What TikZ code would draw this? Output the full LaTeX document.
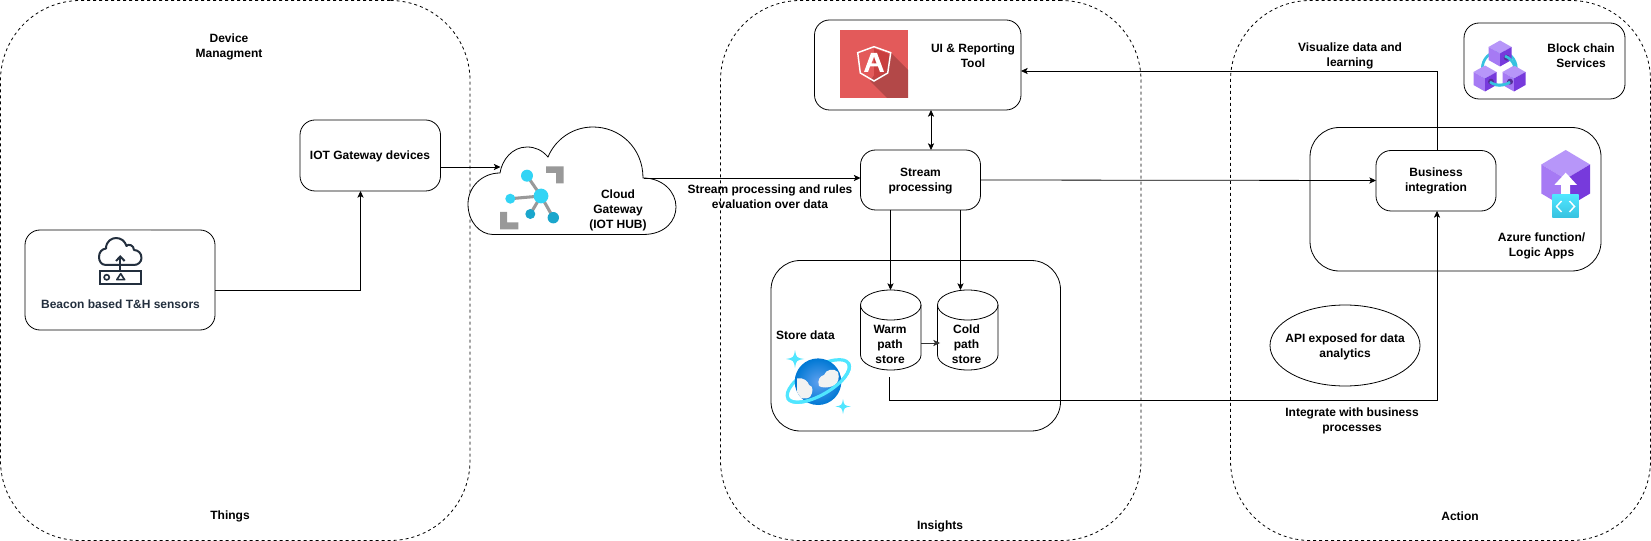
\documentclass[tikz,border=0pt]{standalone}
\usepackage{fontspec}
\setmainfont{Liberation Sans}
\usetikzlibrary{arrows.meta,fit,shapes.geometric}
\definecolor{slateink}{HTML}{232F3E}
\definecolor{cyanA}{HTML}{32D4F5}
\definecolor{cyanB}{HTML}{1AA6CC}
\definecolor{linkgrey}{HTML}{999999}
\definecolor{angred}{HTML}{E35A5A}
\definecolor{angdark}{HTML}{B34848}
\definecolor{angmid}{HTML}{C94040}
\definecolor{purpT}{HTML}{B796F9}
\definecolor{purpL}{HTML}{A67AF4}
\definecolor{purpR}{HTML}{773ADC}
\definecolor{purpD}{HTML}{552F99}
\definecolor{ringc}{HTML}{50E6FF}
\definecolor{ringd}{HTML}{37C2E0}
\definecolor{cloudw}{HTML}{F2F2F2}
\definecolor{cosmosin}{HTML}{5EA0EF}
\definecolor{cosmosout}{HTML}{0078D4}
\tikzset{
  x=0.75pt,y=-0.75pt,
  lbl/.style={font=\bfseries\fontsize{9}{11.25}\selectfont,align=center,text=black,inner sep=0pt,yshift=-0.75pt},
  panel/.style={draw=black,line width=0.6pt,rounded corners=11.25pt,inner sep=0pt,outer sep=0pt},
  bigpanel/.style={draw=black,line width=0.6pt,dash pattern=on 2.25pt off 2.25pt,rounded corners=60pt,inner sep=0pt,outer sep=0pt},
  wire/.style={draw=black,line width=0.6pt},
  arr/.style={wire,-{Stealth[length=5pt,width=4.6pt,inset=1.2pt]}},
  arrboth/.style={wire,{Stealth[length=5pt,width=4.6pt,inset=1.2pt]}-{Stealth[length=5pt,width=4.6pt,inset=1.2pt]}},
  iconline/.style={draw=slateink,line width=1.5pt},
}
% \bx[style]{name}{x1}{y1}{x2}{y2}
\newcommand{\bx}[6][panel]{%
  \coordinate (#2-a) at (#3,#4);\coordinate (#2-b) at (#5,#6);
  \node[#1,fit=(#2-a)(#2-b)] (#2) {};}
\newcommand{\cubeicon}[4]{% cx cy halfwidth halfheight-unit
  \fill[purpT] (#1,#2-#4) -- (#1+#3,#2-#4*0.5) -- (#1,#2) -- (#1-#3,#2-#4*0.5) -- cycle;
  \fill[purpL] (#1-#3,#2-#4*0.5) -- (#1,#2) -- (#1,#2+#4) -- (#1-#3,#2+#4*0.5) -- cycle;
  \fill[purpR] (#1+#3,#2-#4*0.5) -- (#1,#2) -- (#1,#2+#4) -- (#1+#3,#2+#4*0.5) -- cycle;}
\newcommand{\sparkle}[3]{%
  \fill[ringc] (#1,#2-#3) .. controls (#1+#3*0.15,#2-#3*0.15) .. (#1+#3,#2)
   .. controls (#1+#3*0.15,#2+#3*0.15) .. (#1,#2+#3)
   .. controls (#1-#3*0.15,#2+#3*0.15) .. (#1-#3,#2)
   .. controls (#1-#3*0.15,#2-#3*0.15) .. cycle;}
\newcommand{\cyl}[3]{% name x1 x2
  \filldraw[wire,fill=white] (#2,305)
    .. controls (#2,297) and (#2+13,290) .. ({(#2+#3)/2},290)
    .. controls (#3-13,290) and (#3,297) .. (#3,305)
    -- (#3,355)
    .. controls (#3,363) and (#3-13,370) .. ({(#2+#3)/2},370)
    .. controls (#2+13,370) and (#2,363) .. (#2,355) -- cycle;
  \draw[wire] (#2,305)
    .. controls (#2,313) and (#2+13,320) .. ({(#2+#3)/2},320)
    .. controls (#3-13,320) and (#3,313) .. (#3,305);
  \coordinate (#1-a) at (#2,290);\coordinate (#1-b) at (#3,370);
  \node[fit=(#1-a)(#1-b),inner sep=0pt,outer sep=0pt] (#1) {};}
\begin{document}
\begin{tikzpicture}
\useasboundingbox[fill=white] (0,0) rectangle (1651,541);
% ---- zones
\bx[bigpanel]{things}{0.5}{0.5}{470}{540.5}
\bx[bigpanel]{insights}{720.5}{0.5}{1141}{540.5}
\bx[bigpanel]{action}{1230.5}{0.5}{1650.5}{540.5}
% ---- panels
\bx{beacon}{25}{230}{215}{330}
\draw[line width=0.6pt,draw=linkgrey!70] (90,230) -- (150.5,230);
\bx{iot}{300}{120}{440.5}{191}
\bx{ui}{814.5}{20}{1021}{110}
\bx[panel,rounded corners=22pt]{store}{771}{260.5}{1060.5}{431}
\bx{stream}{860.5}{150}{980.5}{210}
\bx[panel,rounded corners=22pt]{azure}{1310}{127.5}{1601}{271}
\bx{business}{1376}{150.5}{1496}{211}
\bx{chain}{1464}{23}{1625}{99}
\node[draw=black,line width=0.6pt,ellipse,inner sep=0pt,outer sep=0pt,minimum width=112.5pt,minimum height=60.75pt] (api) at (1345,345.5) {};
% ---- cloud
\filldraw[wire,fill=white] (493,234.5) -- (643,234.5) .. controls (666,234.5) and (676,220) .. (676,207)
  .. controls (676,192) and (663,178) .. (643,178) .. controls (643,148) and (620,127) .. (593,127)
  .. controls (572,127) and (555,140) .. (548,157) .. controls (542,150) and (535,147) .. (527,147)
  .. controls (512,147) and (502,160) .. (500,173) .. controls (482,173) and (468,187) .. (468,204)
  .. controls (468,222) and (480,234.5) .. (493,234.5) -- cycle;
\coordinate (cloud-a) at (468,127);\coordinate (cloud-b) at (676,234.5);
\node[fit=(cloud-a)(cloud-b),inner sep=0pt,outer sep=0pt] (cloud) {};
\coordinate (cloudin) at (500.5,167);
\coordinate (cloudout) at (644,178);
% ---- cylinders
\cyl{warm}{860.5}{921}
\cyl{cold}{937.5}{998}
% ---- connectors
\coordinate (beaconout) at (215,290.5);
\coordinate (iotin) at (360.5,191);
\draw[arr] (beaconout) -| (iotin);
\coordinate (iotout) at (440.5,167);
\draw[arr] (iotout) -- (cloudin);
\draw[arr] (cloudout) -- (stream.west |- cloudout);
\coordinate (uibot) at (931,110);
\draw[arrboth] (uibot) -- (uibot |- stream.north);
\coordinate (streamE) at (980.5,180);
\coordinate (businessW) at (1376,180.5);
\draw[arr] (streamE) -- (businessW);
\coordinate (warmdrop) at (890.5,210);
\coordinate (colddrop) at (960.5,210);
\draw[arr] (warmdrop) -- (warmdrop |- warm.north);
\draw[arr] (colddrop) -- (colddrop |- cold.north);
\coordinate (warmE) at (921,343);
\coordinate (coldW) at (940,343);
\draw[arr,draw=black!80] (warmE) -- (coldW);
\coordinate (warmout) at (889.5,377);
\coordinate (businessS) at (1437,211);
\coordinate (bend) at (889.5,400.5);
\draw[arr] (warmout) -- (bend) -| (businessS);
\coordinate (businessN) at (1437,150.5);
\coordinate (uiE) at (1021,71);
\draw[arr] (businessN) |- (uiE);
% ---- labels
\node[lbl] (tdev) at (229,45.5) {Device\\Managment};
\node[lbl] (tthings) at (230,515) {Things};
\node[lbl] (tinsights) at (940,525.5) {Insights};
\node[lbl] (taction) at (1460,515) {Action};
\node[lbl,text=slateink] (tbeacon) at (120.5,303.5) {Beacon based T\&H sensors};
\node[lbl] (tiot) at (370,155) {IOT Gateway devices};
\node[lbl] (tcloud) at (618,209) {Cloud\\Gateway\\(IOT HUB)};
\node[lbl] (trules) at (770,195.5) {Stream processing and rules\\evaluation over data};
\node[lbl] (tui) at (973,55) {UI \& Reporting\\Tool};
\node[lbl] (tstream) at (920.5,180) {Stream\\processing};
\node[lbl] (tstore) at (805.5,334) {Store data};
\node[lbl] (twarm) at (890,343) {Warm\\path\\store};
\node[lbl] (tcold) at (966.5,343) {Cold\\path\\store};
\node[lbl] (tbus) at (1436,180) {Business\\integration};
\node[lbl] (tazure) at (1541.5,245) {Azure function/\\Logic Apps};
\node[lbl] (tvis) at (1350,55) {Visualize data and\\learning};
\node[lbl] (tchain) at (1581,55) {Block chain\\Services};
\node[lbl] (tapi) at (1345,345.5) {API exposed for data\\analytics};
\node[lbl] (tint) at (1352,419.5) {Integrate with business\\processes};
% ---- beacon icon
\draw[iconline,line join=round] (106,265) .. controls (101,265) and (99,261) .. (99,257) .. controls (99,252) and (102,249) .. (106,248.5)
  .. controls (106,241) and (112,238) .. (116,238) .. controls (121,238) and (125,241) .. (126.5,246)
  .. controls (128,243.5) and (134,245) .. (134,250) .. controls (138,250) and (141.5,253) .. (141.5,258)
  .. controls (141.5,262) and (138,265) .. (134,265) -- (106,265);
\draw[iconline] (99.7,271) rectangle (141,284);
\draw[draw=slateink,line width=1.5pt] (120.3,271) -- (120.3,257);
\draw[draw=slateink,line width=1.5pt,line join=miter] (116,261) -- (120.3,256.5) -- (124.6,261);
\draw[draw=slateink,line width=1.2pt] (106.7,277.3) circle[radius=2.6];
\draw[draw=slateink,line width=1.2pt,line join=round] (120.7,273.7) -- (124.6,279.7) -- (116.8,279.7) -- cycle;
% ---- iot hub icon
\draw[linkgrey,line width=2.3pt] (541,196) -- (527,175.7) (541,196) -- (510.3,198.7) (541,196) -- (530.3,214) (541,196) -- (553.3,217.7);
\fill[cyanA] (541,196) circle[radius=7.4];
\fill[cyanA] (527,175.7) circle[radius=6];
\fill[cyanA] (510.3,198.7) circle[radius=5];
\fill[cyanB] (530.3,214) circle[radius=5];
\fill[cyanB] (553.3,217.7) circle[radius=5.7];
\fill[linkgrey] (546,166.5) -- (563.7,166.5) -- (563.7,183.5) -- (556,183.5) -- (556,173) -- (546,173) -- cycle;
\fill[linkgrey] (500,212) -- (507,212) -- (507,222.5) -- (518.3,222.5) -- (518.3,229.5) -- (500,229.5) -- cycle;
% ---- angular icon
\fill[angred] (840,30) rectangle (908,98);
\fill[angdark] (890.7,52.7) -- (908,70) -- (908,98) -- (887,98) -- (870,81) -- cycle;
\fill[angmid] (874,48.5) -- (874,79) -- (886,72) -- (889,54) -- cycle;
\draw[white,line width=1.1pt,line join=miter] (874,46.7) -- (890.7,52.7) -- (887.7,73) -- (874,81) -- (860.3,73) -- (857.7,52.7) -- cycle;
\fill[white] (871,53) -- (877,53) -- (884,72) -- (880,72) -- (878,66.5) -- (870,66.5) -- (868,72) -- (864,72) -- cycle;
\fill[angred] (874,57) -- (871.5,63.5) -- (874,63.5) -- cycle;
\fill[angmid] (874,57) -- (876.5,63.5) -- (874,63.5) -- cycle;
% ---- cosmos icon
\draw[ringc,line width=2.4pt] [rotate around={30:(818.3,381)}] (818.3,381) ellipse[x radius=35,y radius=14];
\shade[inner color=cosmosin,outer color=cosmosout] (818,381.7) circle[radius=23.3];
\begin{scope}
  \clip (818,381.7) circle[radius=23.3];
  \fill[cloudw] (797,397) -- (797,378.5) .. controls (803,377) and (808,381) .. (809,385)
    .. controls (814,386) and (813,393) .. (810,397) .. controls (806,400) and (801,398) .. (797,397) -- cycle;
  \fill[cloudw] (819,386) .. controls (817,380) and (820,376) .. (824,375) .. controls (826,369) and (834,368) .. (838,372)
    .. controls (840,378) and (838,384) .. (833,386) .. controls (828,388) and (822,388) .. (819,386) -- cycle;
\end{scope}
\begin{scope}
  \clip (770,409) -- (870,351) -- (870,430) -- (770,430) -- cycle;
  \draw[ringc,line width=2.4pt] [rotate around={30:(818.3,381)}] (818.3,381) ellipse[x radius=35,y radius=14];
\end{scope}
\sparkle{795}{359}{9}
\sparkle{843}{406.5}{7.5}
% ---- blockchain icon
\draw[ringd,line width=2pt] (1499.3,68.3) circle[radius=17];
\cubeicon{1500}{53.5}{11.5}{13}
\cubeicon{1485}{78.5}{11.5}{13}
\cubeicon{1514}{78.5}{11.5}{13}
\fill[purpD] (1506.7,57.7) circle[radius=3];
\fill[purpD] (1491,81.7) circle[radius=3];
\fill[purpD] (1510,81.7) circle[radius=3];
\draw[ringd,line width=2pt] (1490,82) .. controls (1495,86) and (1505,86) .. (1510,82);
\draw[ringd,line width=2pt] (1505,56) .. controls (1510,58) and (1513,62) .. (1514.5,66);
% ---- azure function icon
\cubeicon{1565.7}{179}{24.4}{29}
\fill[white] (1565.7,172.7) -- (1577,185) -- (1570,185) -- (1570,196) -- (1561,196) -- (1561,185) -- (1554.3,185) -- cycle;
\shade[top color=ringc,bottom color=ringd] (1552.3,195) rectangle (1578.7,217.7);
\draw[white,line width=1.1pt] (1561.5,201) -- (1556.5,206.5) -- (1561.5,212);
\draw[white,line width=1.1pt] (1569.5,201) -- (1574.5,206.5) -- (1569.5,212);
\end{tikzpicture}
\end{document}
